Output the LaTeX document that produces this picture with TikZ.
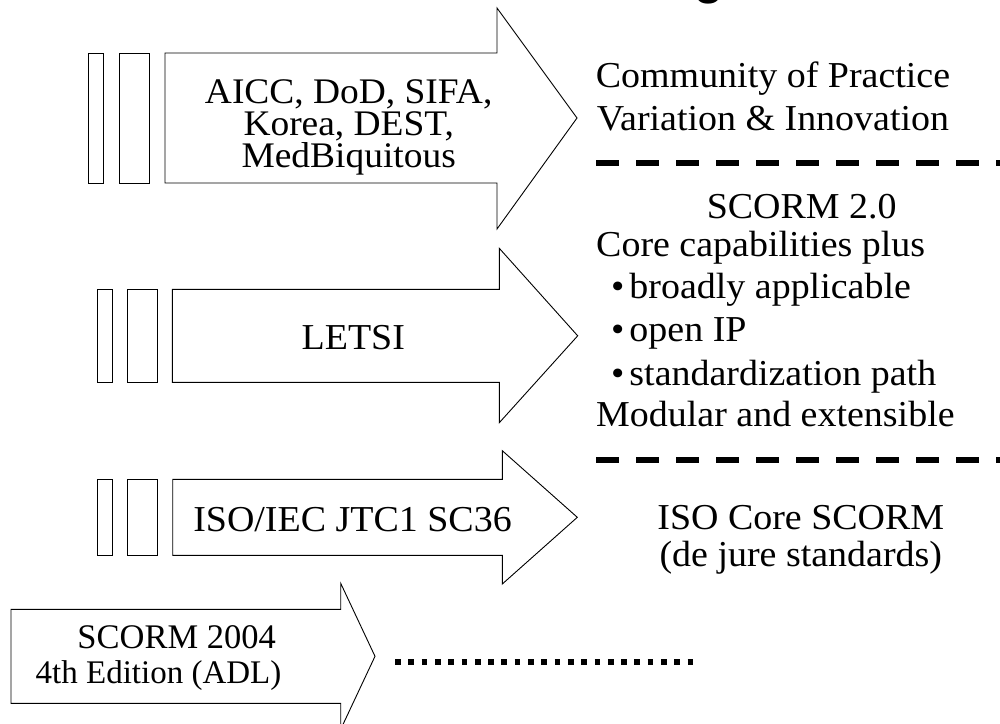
\documentclass[tikz,border=0pt]{standalone}
\usepackage{fontspec}
\setmainfont{Liberation Serif}[FakeStretch=1.04]
\newfontfamily\plainserif{Liberation Serif}
\newfontfamily\titlefont{Liberation Sans}
\begin{document}
\begin{tikzpicture}[x=1pt,y=-1pt,
  arrowshape/.style={draw=black, line width=0.9pt, fill=white, line join=miter},
  txt/.style={font=\fontsize{36.5}{42}\selectfont, inner sep=0pt, text height=24pt, text depth=6pt},
  toptxt/.style={font=\fontsize{36}{32}\selectfont, inner sep=0pt, text height=23pt, text depth=5pt},
  smalltxt/.style={font=\plainserif\fontsize{34.5}{36}\selectfont, inner sep=0pt, text height=24pt, text depth=6pt},
  sepline/.style={line width=6pt, dash pattern=on 23.3pt off 16.7pt},
  dotline/.style={line width=5.7pt, dash pattern=on 5.7pt off 7.6pt}]
\useasboundingbox (0,0) rectangle (1000,723);
% partial title glyph cut off at the top
\node[font=\titlefont\fontsize{56}{56}\selectfont, inner sep=0pt, anchor=base] (title) at (709,-8) {g};
% arrow 1
\draw[arrowshape] (88.3,53) rectangle (103.3,183);
\draw[arrowshape] (119.3,53) rectangle (149.3,183);
\draw[arrowshape] (165,53) -- (497,53) -- (497,8) -- (577,118) -- (497,229) -- (497,183) -- (165,183) -- cycle;
\node[toptxt, anchor=base] (a1l1) at (348.7,103.3) {AICC, DoD, SIFA,};
\node[toptxt, anchor=base] (a1l2) at (348.7,135.3) {Korea, DEST,};
\node[toptxt, anchor=base] (a1l3) at (348.7,167.3) {MedBiquitous};
% arrow 2
\draw[arrowshape] (97.3,289.3) rectangle (112.7,382.3);
\draw[arrowshape] (127.3,289.3) rectangle (157.7,382.3);
\draw[arrowshape] (172.3,289.3) -- (499.3,289.3) -- (499.3,248.3) -- (577.7,335.8) -- (499.3,422.7) -- (499.3,382.3) -- (172.3,382.3) -- cycle;
\node[txt, anchor=base] (letsi) at (353.3,349.3) {LETSI};
% arrow 3
\draw[arrowshape] (97.3,479.3) rectangle (112.7,555.3);
\draw[arrowshape] (127.3,479.3) rectangle (157.7,555.3);
\draw[arrowshape] (172.7,479.3) -- (502.3,479.3) -- (502.3,450.7) -- (577.3,517.3) -- (502.3,584) -- (502.3,555.3) -- (172.7,555.3) -- cycle;
\node[txt, anchor=base] (iso) at (352.5,531.7) {ISO/IEC JTC1 SC36};
% arrow 4
\draw[arrowshape] (11,609.3) -- (340.7,609.3) -- (340.7,583.3) -- (375,656.3) -- (340.7,729.3) -- (340.7,703.3) -- (11,703.3) -- cycle;
\node[smalltxt, anchor=base] (s2004a) at (176.7,648.3) {SCORM 2004};
\node[smalltxt, font=\plainserif\fontsize{33}{36}\selectfont, anchor=base] (s2004b) at (158.5,683.3) {4th Edition (ADL)};
% right column
\node[txt, anchor=base] (cop1) at (773,87.3) {Community of Practice};
\node[txt, anchor=base] (cop2) at (773,130) {Variation \& Innovation};
\coordinate (d1a) at (596,162.7);
\coordinate (d1b) at (1003,162.7);
\draw[sepline] (d1a) -- (d1b);
\node[txt, anchor=base] (s20) at (801.7,218.3) {SCORM 2.0};
\node[txt, anchor=base west] (core) at (596,256.7) {Core capabilities plus};
\node[txt, anchor=base west] (b1) at (611,298.3) {•\hspace{5pt}broadly applicable};
\node[txt, anchor=base west] (b2) at (611,341.7) {•\hspace{5pt}open IP};
\node[txt, anchor=base west] (b3) at (611,385) {•\hspace{5pt}standardization path};
\node[txt, anchor=base west] (mod) at (596,426.7) {Modular and extensible};
\coordinate (d2a) at (596,460);
\coordinate (d2b) at (1003,460);
\draw[sepline] (d2a) -- (d2b);
\node[txt, anchor=base] (isoc1) at (800.8,529.3) {ISO Core SCORM};
\node[txt, anchor=base] (isoc2) at (800.8,566) {(de jure standards)};
\coordinate (dota) at (395,661.7);
\coordinate (dotb) at (693.3,661.7);
\draw[dotline] (dota) -- (dotb);
\end{tikzpicture}
\end{document}
